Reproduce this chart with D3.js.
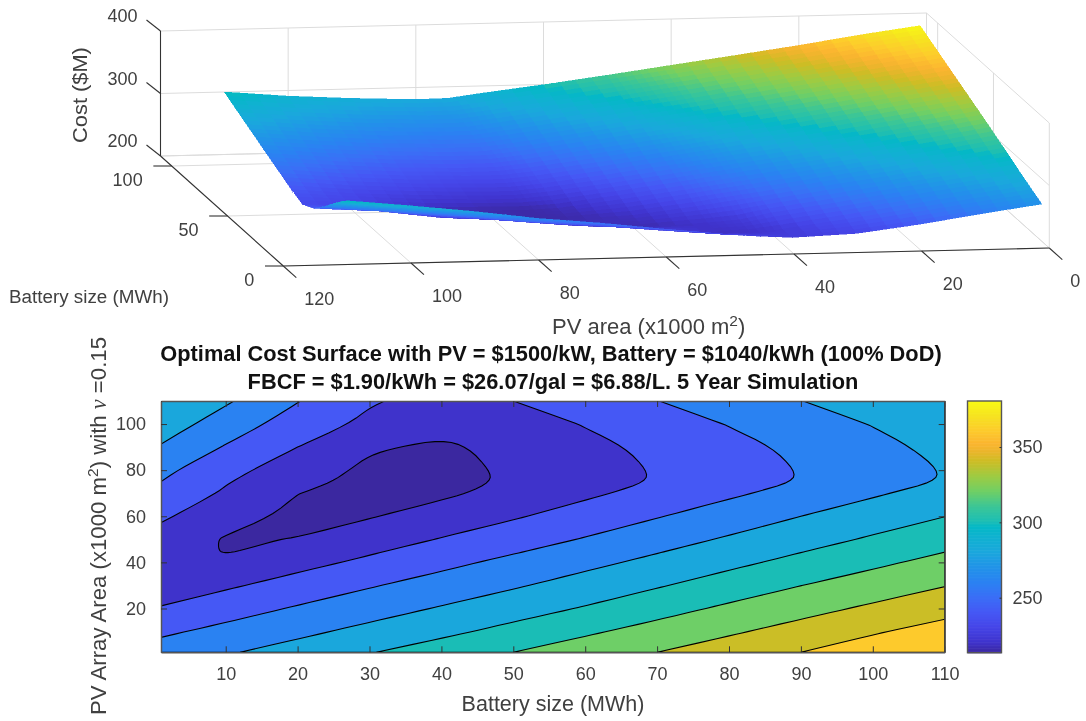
<!DOCTYPE html>
<html><head><meta charset="utf-8">
<script src="https://cdn.jsdelivr.net/npm/d3@7/dist/d3.min.js"></script>
<style>
html,body{margin:0;padding:0;background:#fff}
svg{display:block;filter:blur(0.45px)}
text{font-family:"Liberation Sans",Arial,sans-serif;fill:#404040}
</style></head><body>
<svg id="chart" width="1086" height="721"></svg>
<script>
const batterySizes=[1,10,20,30,40,50,60,70,80,90,100,110];
const pvAreas=[1,10,20,30,40,45,50,60,70,75,80,90,100,110];
const costPv1=[269,278,288,299,309.5,320,330,340,350,360,370,380];
const costPv10=[256.5,265.6,275.5,285.5,295.5,306,317,327.3,337.3,347.5,358,368];
const costPv20=[241.4,251.3,262,271.8,281.6,291.5,301.6,312.7,323.5,333.4,343.4,353];
const costPv30=[229,237.2,247.5,258.4,268.2,277.8,288,298.3,309,319.8,329.3,339.3];
const costPv40=[225,224,234,244,254.8,265,274.9,284.9,295.3,305.6,316,326];
const costPv45=[228,219,224,237.5,247.9,258,268.1,278.5,288.8,299,309.2,319.2];
const costPv50=[232,218.5,220.5,230.5,241,251,261.3,272,282.2,292.4,302.4,312.5];
const costPv60=[243,227.5,215.5,218.8,228.2,238,248.4,258.9,269.5,280,290,299.7];
const costPv70=[255,237.3,220.3,214.5,216.5,226.5,236.4,246.5,256.7,267,277.5,288];
const costPv75=[260,241.5,225,214.5,214.5,222.5,232,241.5,251,261.2,271.4,281.5];
const costPv80=[265,245.8,230,216,215,222.5,232,241.3,251,260.8,271,280.8];
const costPv90=[278.5,258.5,240,222.3,216.5,226,235,244.2,254,264.2,274.5,285];
const costPv100=[290,270.7,250.6,235.5,227.5,231,241,250.7,260.8,270.8,280.8,291];
const costPv110=[300.5,282.5,260.8,242,232.5,240,250,259.7,269.8,279.7,289.8,300];
const costGrid=[costPv1,costPv10,costPv20,costPv30,costPv40,costPv45,costPv50,costPv60,costPv70,costPv75,costPv80,costPv90,costPv100,costPv110];
const contourLevels=[220,240,260,280,300,320,340,360];
const xTicks3d=[0,20,40,60,80,100,120];
const yTicks3d=[0,50,100];
const zTicks3d=[200,300,400];
const xTicks2d=[10,20,30,40,50,60,70,80,90,100,110];
const yTicks2d=[20,40,60,80,100];
const barTicks=[250,300,350];
const paletteStops=[0,.04,.10,.16,.22,.28,.34,.40,.46,.50,.52,.58,.64,.70,.76,.80,.83,.88,.94,1];
const paletteColors=["#3b28a0","#3f33cc","#4545e8","#4558f5","#3a6ff6","#2a82f2","#2194e8","#1aa8dc","#0fb2d0","#04b8c6","#1cbeb4","#3cc696","#70cf65","#9ecb42","#cdbd25","#ecb52c","#fbb530","#fdcb2c","#f6e320","#f8fa14"];
const cmin=213.5,cmax=380.5;

const svg=d3.select("#chart");
const palette=d3.scaleLinear().domain(paletteStops).range(paletteColors).clamp(true);
const colorOf=z=>palette((z-cmin)/(cmax-cmin));

/* ---------- 3D surface: orthographic projection built from linear scales ---------- */
const pxFromPv=d3.scaleLinear().domain([0,120]).range([0,-766]);
const pyFromPv=d3.scaleLinear().domain([0,120]).range([0,18]);
const pxFromBat=d3.scaleLinear().domain([0,110]).range([0,-122.8]);
const pyFromBat=d3.scaleLinear().domain([0,110]).range([0,-110]);
const pyFromCost=d3.scaleLinear().domain([200,400]).range([0,-125]);
const ox=1049.3,oy=248;
const proj=(pv,bat,cost)=>[ox+pxFromPv(pv)+pxFromBat(bat),oy+pyFromPv(pv)+pyFromBat(bat)+pyFromCost(cost)];
const lineGen=d3.line();
const topG=svg.append("g");

const gridSegs=[];
xTicks3d.forEach(x=>{gridSegs.push([[x,110,200],[x,110,400]]);gridSegs.push([[x,0,200],[x,110,200]]);});
yTicks3d.concat([110]).forEach(y=>{gridSegs.push([[0,y,200],[0,y,400]]);gridSegs.push([[0,y,200],[120,y,200]]);});
zTicks3d.forEach(z=>{gridSegs.push([[0,110,z],[120,110,z]]);gridSegs.push([[0,0,z],[0,110,z]]);});
topG.append("g").selectAll("path").data(gridSegs).join("path")
  .attr("d",s=>lineGen(s.map(p=>proj(...p)))).attr("fill","none").attr("stroke","#dcdcdc").attr("stroke-width",1);

/* facets painted back to front */
const sub=4,facets=[];
const zAt=(i,j,u,v)=>{const r0=costGrid[j],r1=costGrid[j+1];
  return (1-v)*((1-u)*r0[i]+u*r0[i+1])+v*((1-u)*r1[i]+u*r1[i+1]);};
const pvAt=(j,v)=>pvAreas[j]+v*(pvAreas[j+1]-pvAreas[j]);
const batAt=(i,u)=>batterySizes[i]+u*(batterySizes[i+1]-batterySizes[i]);
for(let i=batterySizes.length-2;i>=0;i--)for(let a=sub-1;a>=0;a--)for(let j=pvAreas.length-2;j>=0;j--)for(let b=sub-1;b>=0;b--){
  const c=[[a/sub,b/sub],[(a+1)/sub,b/sub],[(a+1)/sub,(b+1)/sub],[a/sub,(b+1)/sub]];
  const zs=c.map(q=>zAt(i,j,q[0],q[1]));
  facets.push({pts:c.map((q,k)=>proj(pvAt(j,q[1]),batAt(i,q[0]),zs[k])),z:d3.mean(zs)});
}
topG.append("g").attr("shape-rendering","crispEdges").selectAll("path").data(facets).join("path")
  .attr("d",f=>lineGen(f.pts)+"Z").attr("fill",f=>colorOf(f.z)).attr("stroke",f=>colorOf(f.z)).attr("stroke-width",.5);

const axisCol="#333";
const addSeg=(g,a,b)=>g.append("line").attr("x1",a[0]).attr("y1",a[1]).attr("x2",b[0]).attr("y2",b[1]).attr("stroke",axisCol).attr("stroke-width",1.1);
const ax=topG.append("g");
addSeg(ax,proj(0,0,200),proj(120,0,200));
addSeg(ax,proj(120,0,200),proj(120,110,200));
addSeg(ax,proj(120,110,200),proj(120,110,400));
xTicks3d.forEach(x=>{const p=proj(x,0,200);addSeg(ax,p,[p[0]+13,p[1]+11.7]);
  ax.append("text").attr("x",p[0]+21).attr("y",p[1]+39).attr("font-size",18).text(x);});
yTicks3d.forEach(y=>{const p=proj(120,y,200);addSeg(ax,p,[p[0]-18.3,p[1]]);
  ax.append("text").attr("x",p[0]-29).attr("y",p[1]+20).attr("font-size",18).attr("text-anchor","end").text(y);});
zTicks3d.forEach(z=>{const p=proj(120,110,z);addSeg(ax,p,[p[0]-14,p[1]-11]);
  ax.append("text").attr("x",p[0]-23).attr("y",p[1]-9).attr("font-size",18).attr("text-anchor","end").text(z);});
ax.append("text").attr("transform","translate(87,95) rotate(-90) scale(1.12,1)").attr("text-anchor","middle").attr("font-size",19.5).text("Cost ($M)");
ax.append("text").attr("x",9).attr("y",303).attr("font-size",18.8).attr("textLength",160).attr("lengthAdjust","spacingAndGlyphs").text("Battery size (MWh)");
const pvLab=ax.append("text").attr("x",552).attr("y",334).attr("font-size",22);
pvLab.append("tspan").text("PV area (x1000 m");
pvLab.append("tspan").attr("dy",-8).attr("font-size",15.5).text("2");
pvLab.append("tspan").attr("dy",8).text(")");

/* ---------- contour plot ---------- */
const L=161,R=944.7,T=401,B=652.3;
const x2=d3.scaleLinear().domain([1,110]).range([L,R]);
const y2=d3.scaleLinear().domain([1,110]).range([B,T]);
const batOfIdx=d3.scaleLinear().domain(d3.range(batterySizes.length)).range(batterySizes).clamp(true);
const pvOfIdx=d3.scaleLinear().domain(d3.range(pvAreas.length)).range(pvAreas).clamp(true);
const flat=costGrid.flat();
const contours=d3.contours().size([batterySizes.length,pvAreas.length]).thresholds(contourLevels)(flat);
const bot=svg.append("g");
svg.append("defs").append("clipPath").attr("id","plotClip").append("rect").attr("x",L).attr("y",T).attr("width",R-L).attr("height",B-T);
const plot=bot.append("g").attr("clip-path","url(#plotClip)");
plot.append("rect").attr("x",L).attr("y",T).attr("width",R-L).attr("height",B-T).attr("fill",colorOf(cmin));
const onFrame=p=>Math.abs(p[0]-L)<.01||Math.abs(p[0]-R)<.01||Math.abs(p[1]-T)<.01||Math.abs(p[1]-B)<.01;
/* round the marching-squares kinks, leaving points on the frame where they are */
const roundRing=ring=>{const n=ring.length-1,out=[];
  for(let i=0;i<n;i++){const p=ring[i],q=ring[(i+1)%n];
    out.push(onFrame(p)?p:[.75*p[0]+.25*q[0],.75*p[1]+.25*q[1]]);
    out.push(onFrame(q)?q:[.25*p[0]+.75*q[0],.25*p[1]+.75*q[1]]);}
  out.push(out[0]);return out;};
const ringPath=r=>{let pts=r.map(c=>[x2(batOfIdx(c[0]-.5)),y2(pvOfIdx(c[1]-.5))]);
  for(let k=0;k<2;k++)pts=roundRing(pts);
  return lineGen(pts)+"Z";};
const contourPath=c=>c.coordinates.map(poly=>poly.map(ringPath).join("")).join("");
plot.selectAll("path").data(contours).join("path")
  .attr("d",contourPath).attr("fill",c=>colorOf(c.value)).attr("fill-rule","evenodd")
  .attr("stroke","#000").attr("stroke-width",1.1);

const frameCol="#555";
const styleAxis=(g,labels)=>{g.select(".domain").attr("stroke",frameCol).attr("stroke-width",1.5);
  g.selectAll(".tick line").attr("stroke","#333").attr("stroke-width",1);
  g.selectAll("text").attr("font-size",18).attr("fill","#404040").attr("font-family",'"Liberation Sans",Arial,sans-serif');
  if(!labels)g.selectAll("text").remove();};
bot.append("g").attr("transform",`translate(0,${B})`).call(d3.axisBottom(x2).tickValues(xTicks2d).tickSizeInner(-6).tickSizeOuter(0).tickPadding(15)).call(g=>styleAxis(g,true));
bot.append("g").attr("transform",`translate(0,${T})`).call(d3.axisTop(x2).tickValues(xTicks2d).tickSizeInner(-6).tickSizeOuter(0)).call(g=>styleAxis(g,false));
bot.append("g").attr("transform",`translate(${L},0)`).call(d3.axisLeft(y2).tickValues(yTicks2d).tickSizeInner(-6).tickSizeOuter(0).tickPadding(15)).call(g=>styleAxis(g,true));
bot.append("g").attr("transform",`translate(${R},0)`).call(d3.axisRight(y2).tickValues(yTicks2d).tickSizeInner(-6).tickSizeOuter(0)).call(g=>styleAxis(g,false));

bot.append("text").attr("x",551).attr("y",361).attr("text-anchor","middle").attr("font-size",21.8).attr("font-weight","bold").style("fill","#111").text("Optimal Cost Surface with PV = $1500/kW, Battery = $1040/kWh (100% DoD)");
bot.append("text").attr("x",553).attr("y",389).attr("text-anchor","middle").attr("font-size",21.8).attr("font-weight","bold").style("fill","#111").text("FBCF = $1.90/kWh = $26.07/gal = $6.88/L. 5 Year Simulation");
bot.append("text").attr("x",553).attr("y",711).attr("text-anchor","middle").attr("font-size",21.5).text("Battery size (MWh)");
const yl=bot.append("text").attr("transform","translate(106,526) rotate(-90)").attr("text-anchor","middle").attr("font-size",22.2);
yl.append("tspan").text("PV Array Area (x1000 m");
yl.append("tspan").attr("dy",-8).attr("font-size",15.5).text("2");
yl.append("tspan").attr("dy",8).text(") with ");
yl.append("tspan").style("font-family",'"Liberation Serif",serif').style("font-style","italic").text("ν");
yl.append("tspan").text(" =0.15");

/* ---------- colorbar ---------- */
const cbL=967.5,cbR=1001.5;
const cbY=d3.scaleLinear().domain([cmin,cmax]).range([652.7,401]);
const cbVals=d3.range(cmin,cmax,1);
bot.append("g").selectAll("rect").data(cbVals).join("rect")
  .attr("x",cbL).attr("width",cbR-cbL).attr("y",v=>cbY(v+1)).attr("height",v=>cbY(v)-cbY(v+1)+.6).attr("fill",colorOf);
bot.append("rect").attr("x",cbL).attr("y",401).attr("width",cbR-cbL).attr("height",251.7).attr("fill","none").attr("stroke",frameCol).attr("stroke-width",1.4);
const cbAxis=bot.append("g").attr("transform",`translate(${cbR},0)`).call(d3.axisRight(cbY).tickValues(barTicks).tickSizeInner(-2).tickSizeOuter(0).tickPadding(11));
cbAxis.select(".domain").remove();
cbAxis.selectAll(".tick line").attr("stroke","#333");
cbAxis.selectAll("text").attr("font-size",18).attr("fill","#404040").attr("font-family",'"Liberation Sans",Arial,sans-serif');
</script></body></html>
